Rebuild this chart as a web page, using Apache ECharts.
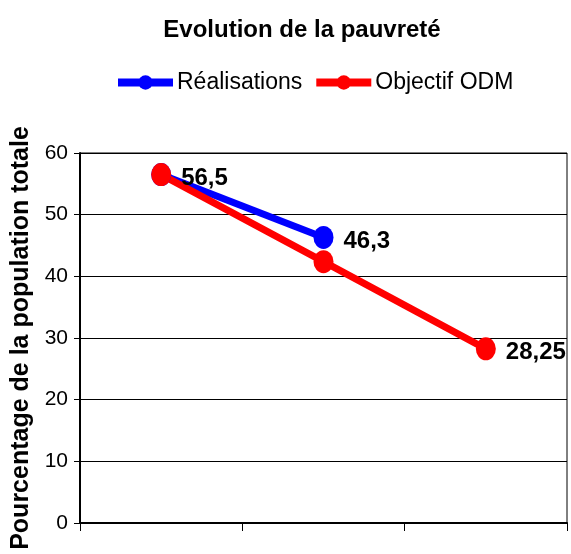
<!DOCTYPE html>
<html><head><meta charset="utf-8">
<script src="https://cdn.jsdelivr.net/npm/echarts@6/dist/echarts.min.js"></script>
<style>html,body{margin:0;padding:0;background:#fff}#c{width:571px;height:554px}</style>
</head><body><div id="c"></div>
<script>
const categories = ['1', '2', '3'];
const realisations = [56.5, 46.3, null];
const objectif = [56.5, 42.375, 28.25];
const realLabels = [true, true, false];
const objLabels = [false, false, true];
const yTicks = [0, 10, 20, 30, 40, 50, 60];

const fmt = v => String(v).replace('.', ',');
const font = 'Liberation Sans, Arial, sans-serif';

const chart = echarts.init(document.getElementById('c'));
chart.setOption({
  animation: false,
  backgroundColor: '#fff',
  title: {
    text: 'Evolution de la pauvreté', left: 297, top: 13, textAlign: 'center',
    textStyle: {fontFamily: font, fontWeight: 'bold', fontSize: 24, color: '#000'}
  },
  legend: {
    top: 66, left: 109, itemWidth: 55, itemHeight: 18, itemGap: 10,
    lineStyle: {width: 8},
    textStyle: {fontFamily: font, fontSize: 23, color: '#000', padding: [0, 0, 0, -1]},
    data: ['Réalisations', 'Objectif ODM']
  },
  grid: {left: 80, right: 4, top: 153, bottom: 31, show: true, borderColor: '#000', borderWidth: 1},
  xAxis: {
    type: 'category', data: categories, boundaryGap: true,
    axisLine: {lineStyle: {color: '#000', width: 2}},
    axisTick: {show: true, length: 8, lineStyle: {color: '#000'}},
    axisLabel: {show: false}
  },
  yAxis: {
    type: 'value', min: yTicks[0], max: yTicks[yTicks.length - 1], interval: 10,
    name: 'Pourcentage de la population totale', nameLocation: 'middle', nameGap: 45,
    nameTextStyle: {fontFamily: font, fontWeight: 'bold', fontSize: 25, color: '#000'},
    axisLine: {show: true, lineStyle: {color: '#000', width: 2}},
    axisTick: {show: true, length: 6, lineStyle: {color: '#000'}},
    axisLabel: {fontFamily: font, fontSize: 21, color: '#000', margin: 12},
    splitLine: {lineStyle: {color: '#000', width: 1}}
  },
  series: [
    {
      name: 'Réalisations', type: 'line', data: realisations.map((v, i) => ({value: v, label: {show: realLabels[i]}})),
      color: '#0000ff', symbol: 'circle', symbolSize: [20, 23],
      lineStyle: {width: 7, color: '#0000ff'}, itemStyle: {color: '#0000ff'},
      label: {position: 'right', distance: 10, offset: [0, 4], formatter: p => fmt(p.value), fontFamily: font, fontWeight: 'bold', fontSize: 24, color: '#000'}
    },
    {
      name: 'Objectif ODM', type: 'line', data: objectif.map((v, i) => ({value: v, label: {show: objLabels[i]}})),
      color: '#ff0000', symbol: 'circle', symbolSize: [20, 23],
      lineStyle: {width: 7, color: '#ff0000'}, itemStyle: {color: '#ff0000'},
      label: {position: 'right', distance: 10, offset: [0, 4], formatter: p => fmt(p.value), fontFamily: font, fontWeight: 'bold', fontSize: 24, color: '#000'}
    }
  ]
});
</script></body></html>
